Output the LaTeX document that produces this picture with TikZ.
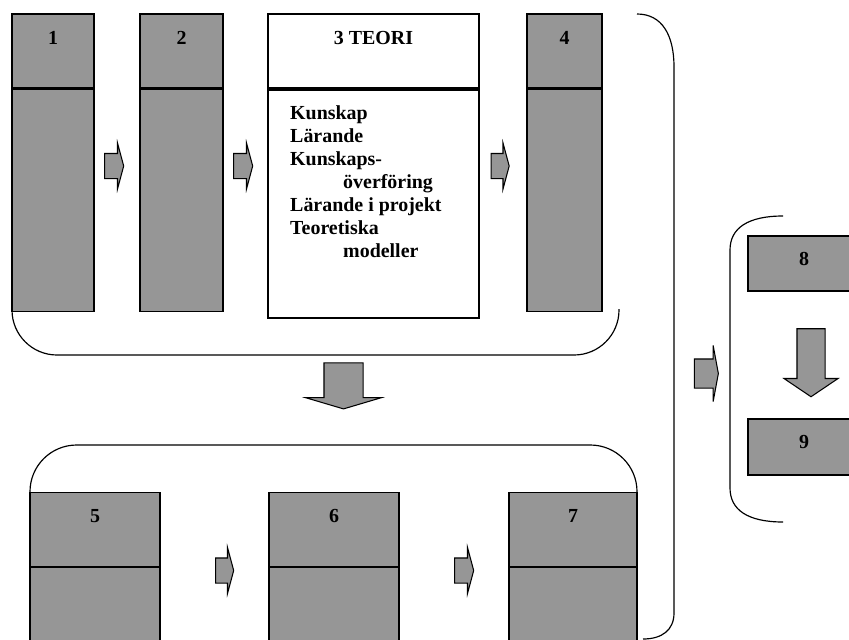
\documentclass[tikz,border=0pt]{standalone}
\usepackage{fontspec}
\setmainfont{Liberation Serif}
\usetikzlibrary{shapes.arrows,positioning}
\definecolor{boxgray}{RGB}{150,150,150}

\begin{document}
\begin{tikzpicture}[
    x=0.03cm, y=-0.03cm,
    colbox/.style={rectangle, draw=black, line width=0.9pt, fill=boxgray, inner sep=0pt},
    teoribox/.style={rectangle, draw=black, line width=1.8pt, fill=white, inner sep=0pt},
    numlabel/.style={inner sep=0pt, font=\fontsize{17}{19.7}\selectfont\bfseries},
    blockarrow/.style={single arrow, draw=black, line width=0.9pt, fill=boxgray,
                       inner xsep=0pt},
    downarrow/.style={blockarrow, shape border rotate=270, inner ysep=0pt},
    bracket/.style={draw=black, line width=1pt}
  ]
    \useasboundingbox (0,0) rectangle (849,639);
    \clip (0,0) rectangle (849,639);

    % Brackets
    \draw[bracket, rounded corners=1.35cm] (12,309) |- (619,355) -- (619,309);
    \draw[bracket] (637,14) .. controls (662,14) and (674,35) .. (674,67)
      -- (674,613) .. controls (674,630) and (662,639) .. (643,639);
    \draw[bracket, rounded corners=1.4cm] (30,492.7) |- (637,445) -- (637,492.7);
    \draw[bracket] (783,216) .. controls (748,216) and (730,228) .. (730,250)
      -- (730,488) .. controls (730,510) and (748,522) .. (783,522);

    % Top row
    \node[colbox, minimum width=2.46cm, minimum height=2.22cm] (b1t) at (53,51) {};
    \node[colbox, minimum width=2.46cm, minimum height=6.66cm, below=0pt of b1t] (b1b) {};
    \node[colbox, minimum width=2.49cm, minimum height=2.22cm] (b2t) at (181.5,51) {};
    \node[colbox, minimum width=2.49cm, minimum height=6.66cm, below=0pt of b2t] (b2b) {};
    \node[teoribox, minimum width=6.33cm, minimum height=2.22cm] (b3t) at (373.5,51) {};
    \node[teoribox, minimum width=6.33cm, minimum height=6.84cm, below=0pt of b3t] (b3b) {};
    \node[colbox, minimum width=2.25cm, minimum height=2.22cm] (b4t) at (564.5,51) {};
    \node[colbox, minimum width=2.25cm, minimum height=6.66cm, below=0pt of b4t] (b4b) {};

    \node[numlabel] (n1) at (53,38) {1};
    \node[numlabel] (n2) at (181.5,38) {2};
    \node[numlabel] (n3) at (373.5,38) {3 TEORI};
    \node[numlabel] (n4) at (564.5,38) {4};
    \node[numlabel, align=left, anchor=north west] (teori) at (290,105)
      {Kunskap\\Lärande\\Kunskaps-\\\hspace*{1.59cm}överföring\\Lärande i projekt\\
       Teoretiska\\\hspace*{1.59cm}modeller};

    % Bottom row
    \node[colbox, minimum width=3.9cm, minimum height=2.22cm] (b5t) at (95,529.7) {};
    \node[colbox, minimum width=3.9cm, minimum height=2.7cm, below=0pt of b5t] (b5b) {};
    \node[colbox, minimum width=3.9cm, minimum height=2.22cm] (b6t) at (334,529.7) {};
    \node[colbox, minimum width=3.9cm, minimum height=2.7cm, below=0pt of b6t] (b6b) {};
    \node[colbox, minimum width=3.84cm, minimum height=2.22cm] (b7t) at (573,529.7) {};
    \node[colbox, minimum width=3.84cm, minimum height=2.7cm, below=0pt of b7t] (b7b) {};

    \node[numlabel] (n5) at (95,515.7) {5};
    \node[numlabel] (n6) at (334,515.7) {6};
    \node[numlabel] (n7) at (573,515.7) {7};

    % Right column
    \node[colbox, minimum width=3.36cm, minimum height=1.65cm] (b8) at (804,263.5) {};
    \node[colbox, minimum width=3.36cm, minimum height=1.68cm] (b9) at (804,447) {};
    \node[numlabel] (n8) at (804,259) {8};
    \node[numlabel] (n9) at (804,442) {9};

    % Block arrows
    \node[blockarrow, minimum height=0.57cm, inner ysep=0.36cm,
          single arrow head extend=0.315cm, single arrow tip angle=150] (a12) at (112.5,166) {};
    \node[blockarrow, minimum height=0.57cm, inner ysep=0.36cm,
          single arrow head extend=0.315cm, single arrow tip angle=150] (a23) at (241.5,166) {};
    \node[blockarrow, minimum height=0.54cm, inner ysep=0.36cm,
          single arrow head extend=0.315cm, single arrow tip angle=150] (a34) at (498.5,166) {};
    \node[blockarrow, minimum height=0.54cm, inner ysep=0.36cm,
          single arrow head extend=0.315cm, single arrow tip angle=150] (a56) at (223,570.5) {};
    \node[blockarrow, minimum height=0.57cm, inner ysep=0.36cm,
          single arrow head extend=0.315cm, single arrow tip angle=150] (a67) at (462.5,570.5) {};
    \node[downarrow, minimum height=1.38cm, inner xsep=0.57cm,
          single arrow head extend=0.555cm, single arrow tip angle=147] (adown) at (343.5,383) {};
    \node[blockarrow, minimum height=0.72cm, inner ysep=0.42cm,
          single arrow head extend=0.405cm, single arrow tip angle=159] (aright) at (705,373.5) {};
    \node[downarrow, minimum height=2.04cm, inner xsep=0.405cm,
          single arrow head extend=0.39cm, single arrow tip angle=112] (a89) at (811,358) {};
  \end{tikzpicture}
\end{document}
